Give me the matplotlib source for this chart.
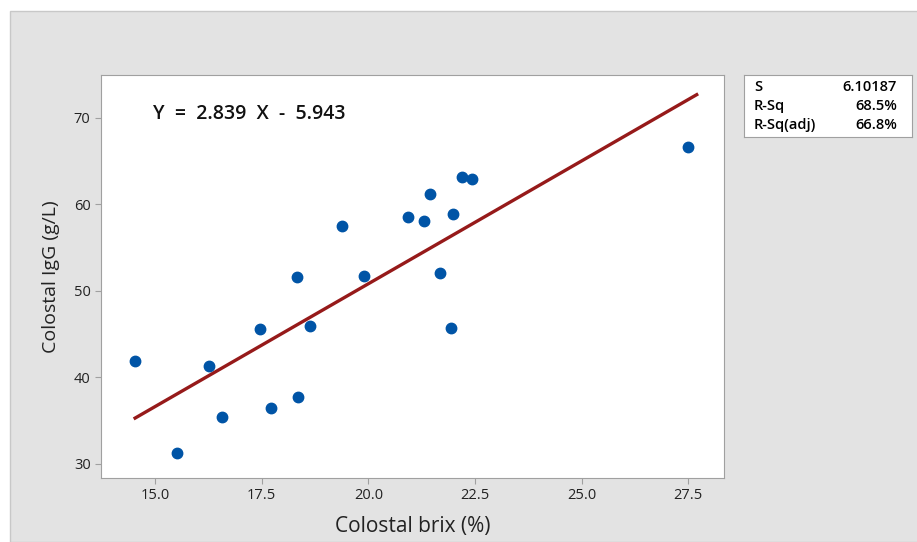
import numpy as np
import matplotlib.pyplot as plt
from matplotlib.patches import Rectangle

# -------------------------------------------------
# Data
# -------------------------------------------------
brix = [14.53, 15.52, 16.27, 16.57, 17.46, 17.72, 18.33, 18.36, 18.64, 19.39,
        19.90, 20.93, 21.30, 21.45, 21.68, 21.94, 21.99, 22.20, 22.43, 27.50]
igg = [41.9, 31.3, 41.3, 35.4, 45.6, 36.5, 51.6, 37.7, 46.0, 57.5,
       51.7, 58.6, 58.1, 61.2, 52.1, 45.7, 58.9, 63.2, 62.9, 66.6]

slope = 2.839
intercept = -5.943

stat_names = ['S', 'R-Sq', 'R-Sq(adj)']
stat_values = ['6.10187', '68.5%', '66.8%']

x_ticks = [15.0, 17.5, 20.0, 22.5, 25.0, 27.5]
y_ticks = [30, 40, 50, 60, 70]

# -------------------------------------------------
# Plot
# -------------------------------------------------
plt.rcParams['font.family'] = ['Open Sans', 'DejaVu Sans']

W, H = 917, 542
fig = plt.figure(figsize=(W/100, H/100), dpi=100)
fig.patch.set_facecolor('white')

# gray minitab panel
fig.add_artist(Rectangle((10/W, 0), 1, (H-11)/H, transform=fig.transFigure,
                         facecolor='#e3e3e3', edgecolor='#c8c8c8', lw=1, zorder=-10))

ax = fig.add_axes([101/W, (H-478)/H, (724-101)/W, (478-75)/H])
ax.set_facecolor('white')

xl = np.array([min(brix), 27.7])
ax.plot(xl, slope*xl + intercept, color='#961a1a', lw=2.4, zorder=2)
ax.plot(brix, igg, 'o', color='#0054a6', ms=7.5, zorder=3)

ax.set_xlim(13.73, 28.34)
ax.set_ylim(28.38, 74.97)
ax.set_xticks(x_ticks)
ax.set_xticklabels([f'{v:.1f}' for v in x_ticks])
ax.set_yticks(y_ticks)

for s in ax.spines.values():
    s.set_color('#a0a0a0')
ax.tick_params(colors='#a0a0a0', labelcolor='#222222', labelsize=10.5, length=4)

ax.set_xlabel('Colostal brix (%)', fontsize=15, color='#222222', labelpad=9)
ax.set_ylabel('Colostal IgG (g/L)', fontsize=14, color='#222222', labelpad=10)

ax.text(153, H - 114, f'Y  =  {slope:.3f}  X  -  {abs(intercept):.3f}', transform=None,
        fontsize=14, fontweight='semibold', color='#111111', va='center', ha='left')

# stats box
bx = fig.add_axes([744/W, (H-137)/H, (912-744)/W, 62/H])
bx.set_xticks([])
bx.set_yticks([])
bx.set_facecolor('white')
for s in bx.spines.values():
    s.set_color('#a0a0a0')
for i, (n, v) in enumerate(zip(stat_names, stat_values)):
    yy = 0.81 - i * 0.31
    bx.text(0.06, yy, n, fontsize=10.5, fontweight='semibold', va='center', ha='left')
    bx.text(0.91, yy, v, fontsize=10.5, fontweight='semibold', va='center', ha='right')

fig.savefig('out.png', dpi=100)
